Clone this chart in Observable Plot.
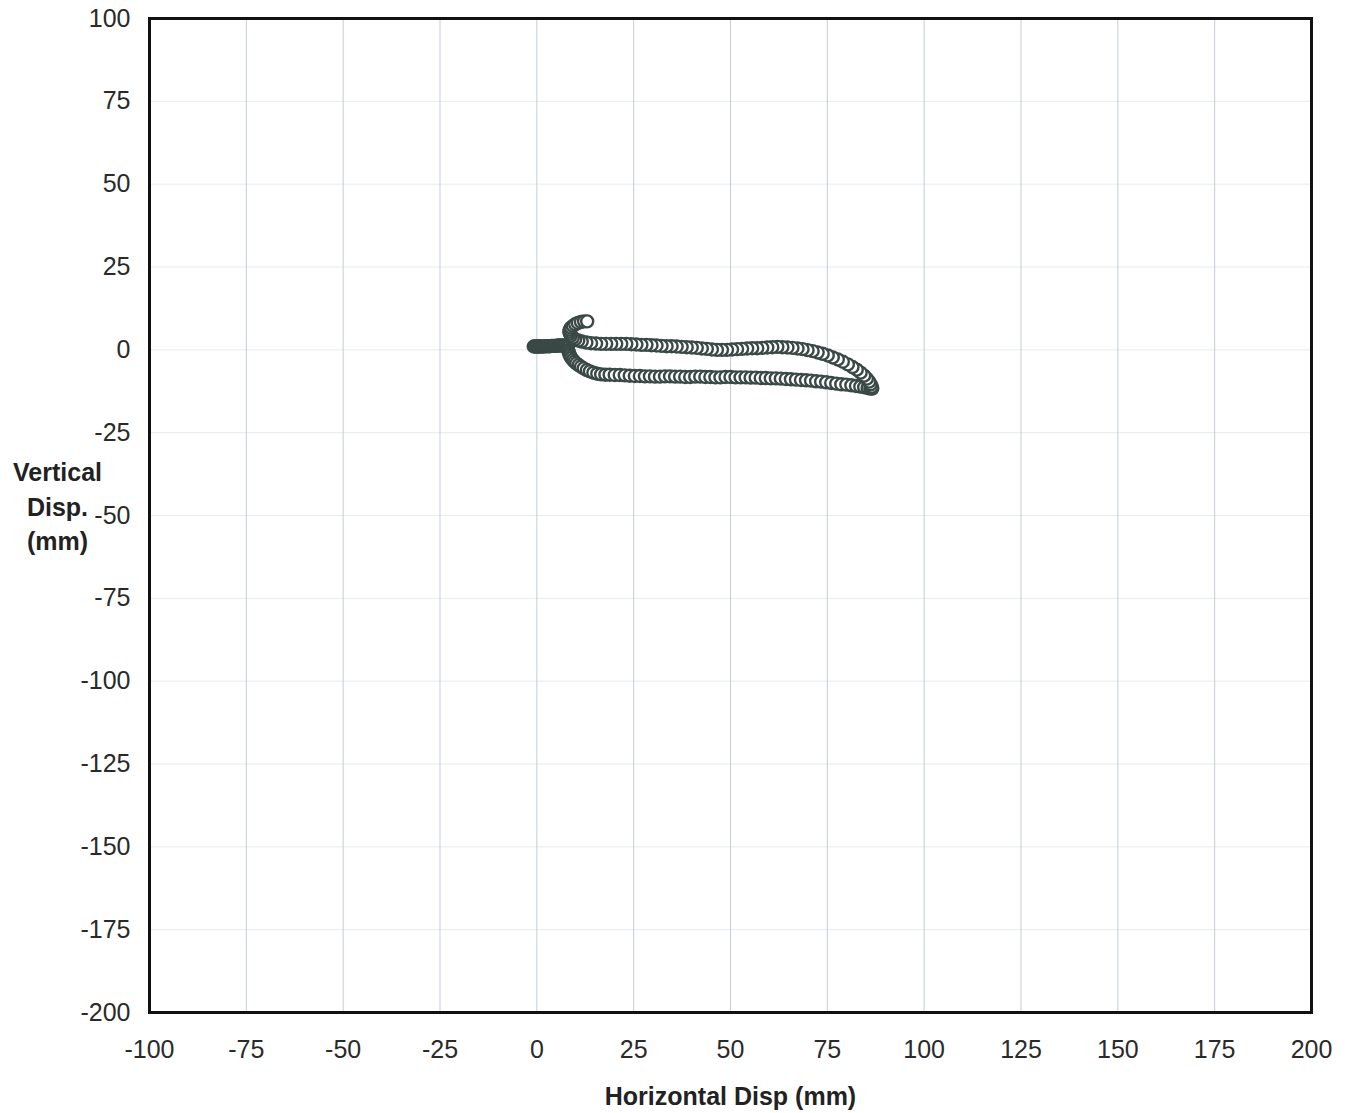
<!DOCTYPE html>
<html>
<head>
<meta charset="utf-8">
<script src="https://cdn.jsdelivr.net/npm/d3@7"></script>
<script src="https://cdn.jsdelivr.net/npm/@observablehq/plot@0.6"></script>
<style>
  html, body { margin: 0; padding: 0; background: #fff; }
  #chart svg { display: block; }
</style>
</head>
<body>
<div id="chart"></div>
<script>
// Tick values
const xTicks = [-100, -75, -50, -25, 0, 25, 50, 75, 100, 125, 150, 175, 200];
const yTicks = [100, 75, 50, 25, 0, -25, -50, -75, -100, -125, -150, -175, -200];

// Trajectory segments, [horizontal mm, vertical mm], in plotting order
const stub = [
  [-0.8, 1.0], [-0.5, 1.0], [-0.2, 1.0], [0.1, 1.0], [0.4, 1.0], [0.7, 1.0], [1.0, 1.0],
  [1.4, 1.0], [1.8, 1.0], [2.2, 1.1], [2.6, 1.1], [3.0, 1.1], [3.4, 1.1], [3.8, 1.2],
  [4.2, 1.2], [4.6, 1.2], [5.0, 1.2], [5.4, 1.3], [5.8, 1.3], [6.2, 1.3], [6.6, 1.3],
  [7.0, 1.3], [7.4, 1.2], [7.8, 1.1]
];
const arcDown = [
  [8.0, 0.6], [8.1, 0.0], [8.2, -0.6], [8.4, -1.2], [8.6, -1.8], [8.9, -2.4],
  [9.3, -3.0], [9.7, -3.6], [10.2, -4.1], [10.8, -4.6], [11.4, -5.1], [12.1, -5.6],
  [12.9, -6.1], [13.7, -6.5], [14.6, -6.9], [15.6, -7.2], [16.6, -7.4], [17.7, -7.5]
];
const bottomBranch = [
  [18.8, -7.5], [20.1, -7.6], [21.4, -7.6], [22.7, -7.7], [24.0, -7.8], [25.3, -7.9],
  [26.6, -7.9], [27.9, -8.0], [29.2, -8.0], [30.5, -8.1], [31.8, -8.1], [33.1, -8.0],
  [34.4, -8.0], [35.7, -8.1], [37.0, -8.1], [38.3, -8.2], [39.6, -8.2], [40.9, -8.1],
  [42.2, -8.1], [43.5, -8.2], [44.8, -8.2], [46.1, -8.3], [47.4, -8.3], [48.7, -8.2],
  [50.0, -8.2], [51.3, -8.3], [52.6, -8.3], [53.9, -8.3], [55.2, -8.4], [56.5, -8.4],
  [57.8, -8.5], [59.1, -8.5], [60.4, -8.6], [61.7, -8.6], [63.0, -8.7], [64.3, -8.8],
  [65.6, -8.9], [66.9, -9.0], [68.2, -9.1], [69.5, -9.2], [70.8, -9.3], [72.1, -9.5],
  [73.4, -9.6], [74.7, -9.8], [76.0, -10.0], [77.3, -10.2], [78.6, -10.4], [79.9, -10.5],
  [81.2, -10.7], [82.4, -10.9], [83.5, -11.1], [84.5, -11.3], [85.4, -11.5], [86.1, -11.7],
  [86.6, -11.7]
];
const topBranch = [
  [86.5, -11.2], [86.2, -10.4], [85.8, -9.6], [85.2, -8.7], [84.5, -7.8], [83.6, -6.9],
  [82.6, -6.0], [81.5, -5.2], [80.3, -4.4], [79.0, -3.6], [77.7, -2.9], [76.4, -2.3],
  [75.1, -1.7], [73.8, -1.2], [72.5, -0.8], [71.2, -0.4], [69.9, -0.1], [68.6, 0.2],
  [67.3, 0.4], [66.0, 0.6], [64.7, 0.7], [63.4, 0.8], [62.1, 0.9], [60.8, 0.8],
  [59.5, 0.7], [58.2, 0.6], [56.9, 0.5], [55.6, 0.5], [54.3, 0.4], [53.0, 0.3],
  [51.7, 0.2], [50.4, 0.1], [49.1, 0.0], [47.8, 0.0], [46.5, 0.0], [45.2, 0.1],
  [43.9, 0.3], [42.6, 0.4], [41.3, 0.6], [40.0, 0.7], [38.7, 0.8], [37.4, 0.9],
  [36.1, 1.0], [34.8, 1.1], [33.5, 1.1], [32.2, 1.2], [30.9, 1.3], [29.6, 1.4],
  [28.3, 1.5], [27.0, 1.5], [25.7, 1.6], [24.4, 1.7], [23.1, 1.8], [21.8, 1.8],
  [20.5, 1.8], [19.2, 1.8], [17.9, 1.8], [16.6, 1.8], [15.3, 1.9], [14.0, 2.0],
  [12.8, 2.2], [11.6, 2.5]
];
const arcUp = [
  [10.7, 2.8], [9.9, 3.2], [9.3, 3.7], [8.8, 4.3], [8.5, 4.9], [8.4, 5.5],
  [8.5, 6.1], [8.8, 6.7], [9.3, 7.2], [9.9, 7.7], [10.6, 8.1], [11.4, 8.4],
  [12.2, 8.6], [13.0, 8.6]
];

const points = [...stub, ...arcDown, ...bottomBranch, ...topBranch, ...arcUp]
  .map(([x, y]) => ({x, y}));

const FONT = "'Liberation Sans', Arial, Helvetica, sans-serif";

const chart = Plot.plot({
  width: 1351,
  height: 1113,
  marginLeft: 149,
  marginRight: 40,
  marginTop: 18,
  marginBottom: 101,
  style: {fontFamily: FONT, background: "#fff", overflow: "visible"},
  x: {domain: [-100, 200], axis: null},
  y: {domain: [-200, 100], axis: null},
  marks: [
    Plot.gridY(yTicks, {stroke: "#dde2e4", strokeOpacity: 0.7, strokeWidth: 1}),
    Plot.gridX(xTicks, {stroke: "#b8c2cc", strokeOpacity: 0.8, strokeWidth: 1}),
    Plot.axisX(xTicks, {
      tickSize: 0, tickPadding: 28, fontSize: 25, fill: "#2a2a2a",
      tickFormat: d => String(d), label: null
    }),
    Plot.axisY(yTicks, {
      tickSize: 0, tickPadding: 19, fontSize: 25, fill: "#2a2a2a",
      tickFormat: d => String(d), label: null
    }),
    Plot.dot(points, {
      x: "x", y: "y", r: 6, fill: "white", stroke: "#3a4946", strokeWidth: 2.4
    }),
    Plot.frame({stroke: "#111", strokeWidth: 3}),
    Plot.text(["Horizontal Disp (mm)"], {
      frameAnchor: "bottom", dy: 84, fontSize: 25, fontWeight: "bold",
      fill: "#222", textAnchor: "middle", lineAnchor: "middle"
    }),
    Plot.text(["Vertical\nDisp.\n(mm)"], {
      frameAnchor: "left", dx: -92, dy: -11, fontSize: 25, fontWeight: "bold",
      fill: "#222", textAnchor: "middle", lineAnchor: "middle", lineHeight: 1.38
    })
  ]
});

document.getElementById("chart").appendChild(chart);
</script>
</body>
</html>
